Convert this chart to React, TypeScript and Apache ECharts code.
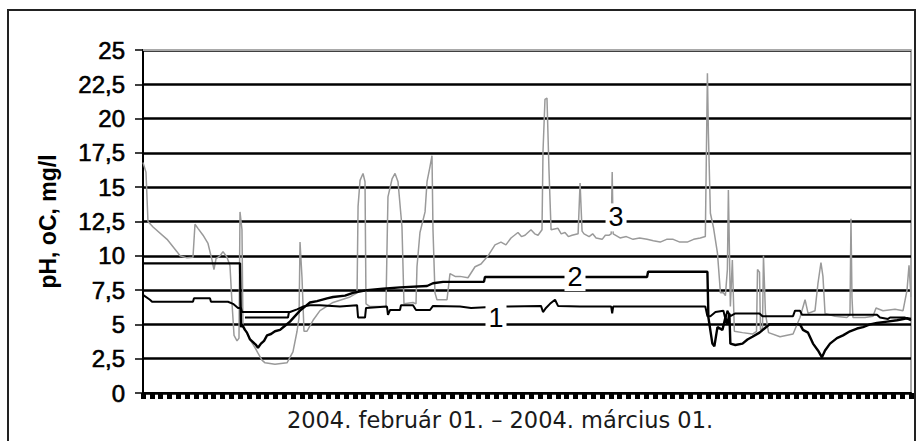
import React, { useEffect, useRef } from "react";
import * as echarts from "echarts";

// x: hours since 2004-02-01 00:00 (Feb 1 -> Mar 1 = 696 h)
const X_MAX = 696;
const X_TICK_HOURS = 8;

const yTickLabels = ["0", "2,5", "5", "7,5", "10", "12,5", "15", "17,5", "20", "22,5", "25"];

// Series 1 (black)
const series1: [number, number][] = [
  [0, 7.15], [6.3, 6.8], [8.2, 6.65], [45.3, 6.65], [46.2, 6.9], [60.7, 6.9], [61.6, 6.65],
  [77.0, 6.65], [81.6, 6.5], [86.1, 6.2], [88.8, 6.2], [89.7, 5.9], [133.2, 5.9], [139.6, 6.1],
  [145.0, 6.3], [151.3, 6.4], [160.4, 6.4], [178.5, 6.3], [194.0, 6.4], [194.9, 5.5], [201.2, 5.5],
  [202.1, 6.2], [221.1, 6.3], [222.0, 5.7], [223.9, 6.05], [232.9, 6.05], [233.8, 6.4], [244.7, 6.4],
  [247.4, 6.05], [260.1, 6.05], [262.8, 6.35], [287.3, 6.3], [297.3, 6.2], [323.5, 6.3], [360.7, 6.35],
  [362.5, 5.9], [365.2, 6.2], [368.8, 6.5], [373.4, 6.8], [376.1, 6.35], [396.0, 6.3], [424.3, 6.3],
  [425.2, 5.8], [426.1, 6.3], [509.6, 6.3], [511.5, 5.6], [514.2, 5.6], [518.8, 5.9], [526.0, 6.0],
  [527.8, 5.4], [529.6, 6.0], [532.3, 5.6], [536.8, 5.8], [558.7, 5.8], [561.4, 5.6], [589.1, 5.6],
  [590.9, 6.0], [595.4, 6.0], [597.2, 5.7], [665.2, 5.7], [667.9, 5.5], [675.2, 5.4], [677.0, 5.5],
  [690.6, 5.5], [696, 5.3],
];

// Short second trace of series 1 (lower edge of the early dip)
const series1b: [number, number][] = [
  [92.4, 5.5], [131.4, 5.5], [132.3, 5.9],
];

// Series 2 (black)
const series2: [number, number][] = [
  [0, 9.45], [87.9, 9.45], [88.8, 4.8], [89.7, 5.0], [92.4, 4.6], [94.2, 4.4], [97.0, 3.9],
  [99.7, 3.7], [102.4, 3.5], [104.2, 3.3], [106.9, 3.6], [109.7, 3.8], [112.4, 4.2], [116.0, 4.3],
  [119.6, 4.5], [124.2, 4.6], [128.7, 4.9], [133.2, 5.2], [137.7, 5.6], [142.3, 6.0], [146.8, 6.3],
  [151.3, 6.6], [157.7, 6.7], [166.8, 6.9], [172.2, 7.0], [183.1, 7.1], [190.3, 7.3], [203.0, 7.5],
  [217.5, 7.6], [232.9, 7.7], [257.4, 7.8], [262.8, 8.0], [271.9, 8.1], [309.0, 8.1], [309.9, 8.45],
  [456.8, 8.45], [457.7, 8.84], [511.5, 8.84], [512.4, 5.5], [516.0, 3.6], [517.8, 3.4], [520.6, 4.8],
  [525.1, 4.6], [527.8, 5.5], [529.6, 5.0], [531.4, 5.8], [532.3, 3.6], [536.8, 3.5], [543.3, 3.6],
  [547.8, 3.9], [552.3, 4.1], [558.7, 4.4], [563.2, 4.7], [567.8, 5.0], [589.1, 5.0], [595.4, 5.0],
  [598.1, 4.6], [602.7, 4.4], [607.2, 3.6], [611.7, 3.1], [615.3, 2.6], [618.1, 3.1], [622.6, 3.6],
  [628.9, 4.0], [634.4, 4.2], [640.7, 4.5], [647.1, 4.7], [652.5, 4.8], [658.8, 5.0], [665.2, 5.1],
  [674.3, 5.2], [683.3, 5.3], [692.4, 5.45], [696, 5.4],
];

// Series 3 (grey)
const series3: [number, number][] = [
  [0, 16.8], [2.7, 16.1], [4.5, 12.5], [9.1, 12.1], [21.8, 11.2], [30.8, 10.3], [33.5, 10.0],
  [39.9, 9.85], [45.3, 9.9], [47.1, 12.3], [49.8, 12.0], [54.4, 11.5], [58.9, 10.9], [62.5, 9.7],
  [64.3, 9.0], [66.2, 9.8], [69.8, 10.0], [72.5, 10.3], [76.1, 9.9], [78.8, 9.3], [80.7, 6.5],
  [82.5, 4.2], [85.2, 3.8], [87.0, 4.0], [87.9, 13.2], [89.7, 11.9], [90.6, 4.8], [94.2, 4.4],
  [97.0, 3.9], [101.5, 3.3], [104.2, 2.9], [107.8, 2.4], [110.6, 2.2], [119.6, 2.1], [130.5, 2.2],
  [135.9, 3.0], [139.6, 4.5], [141.4, 5.5], [142.3, 11.0], [144.1, 8.4], [145.9, 4.5], [148.6, 4.5],
  [154.1, 5.3], [160.4, 6.0], [172.2, 6.6], [187.6, 7.0], [194.0, 7.3], [194.9, 13.6], [196.7, 15.5],
  [199.4, 16.0], [201.2, 15.4], [202.1, 6.5], [205.7, 6.3], [220.2, 6.3], [221.1, 10.4], [222.0, 14.3],
  [225.7, 15.6], [228.4, 16.0], [231.1, 15.4], [234.7, 12.1], [236.5, 6.5], [244.7, 6.6], [247.4, 6.5],
  [248.3, 9.2], [251.0, 11.7], [255.6, 13.2], [257.4, 15.4], [260.1, 16.5], [261.9, 17.3], [262.8, 11.9],
  [264.6, 7.3], [266.4, 6.8], [275.5, 6.8], [278.2, 8.7], [282.8, 8.5], [287.3, 8.5], [294.5, 8.4],
  [300.9, 9.2], [306.3, 9.4], [312.7, 10.0], [319.0, 10.8], [324.4, 11.0], [328.9, 10.8], [333.5, 11.3],
  [339.8, 11.7], [343.0, 11.4], [346.2, 11.5], [351.6, 11.9], [355.0, 11.6], [358.0, 11.5], [361.6, 11.9],
  [362.5, 17.6], [364.3, 21.4], [366.1, 21.5], [367.9, 16.3], [369.8, 11.9], [376.1, 12.0], [379.0, 11.6],
  [382.4, 11.7], [385.5, 11.4], [388.8, 11.5], [394.3, 11.6], [396.1, 15.3], [397.9, 11.8], [399.7, 11.6],
  [404.3, 11.4], [407.5, 11.6], [410.6, 11.3], [416.1, 11.2], [419.0, 11.5], [422.5, 11.5], [424.3, 11.6],
  [425.2, 16.1], [426.1, 11.6], [432.3, 11.3], [438.0, 11.4], [444.1, 11.2], [450.0, 11.3], [456.8, 11.2],
  [462.5, 11.1], [468.7, 11.0], [474.5, 11.2], [480.5, 11.2], [486.5, 11.0], [493.2, 11.0], [499.0, 11.2],
  [505.0, 11.3], [509.6, 11.4], [511.5, 23.3], [512.4, 18.9], [514.2, 13.1], [516.9, 12.1], [520.6, 10.2],
  [523.3, 7.3], [526.0, 7.3], [527.8, 7.1], [529.6, 9.0], [530.5, 14.8], [532.3, 6.3], [534.1, 9.7],
  [535.9, 4.5], [543.3, 4.4], [552.3, 4.3], [556.0, 4.5], [556.9, 9.0], [558.7, 8.8], [559.6, 4.6],
  [561.4, 4.7], [562.3, 10.0], [564.1, 5.8], [566.9, 4.4], [577.3, 4.1], [589.1, 4.3], [595.4, 5.5],
  [600.0, 6.8], [602.7, 5.8], [609.0, 6.0], [611.7, 8.0], [614.4, 9.5], [616.2, 8.5], [618.1, 5.8],
  [627.1, 5.6], [637.9, 5.5], [640.7, 5.7], [641.6, 12.7], [642.5, 7.0], [643.4, 5.5], [654.3, 5.5],
  [661.6, 5.6], [664.3, 6.2], [670.6, 6.0], [681.5, 6.1], [688.8, 6.0], [692.4, 7.5], [694.2, 9.3],
  [696, 7.0],
];

// Curve labels: [hour, value, text]
const curveLabels: [number, number, string][] = [
  [319.9, 5.45, "1"],
  [391.5, 8.45, "2"],
  [428.7, 12.8, "3"],
];

const xTitle = "2004. február 01. – 2004. március 01.";
const yTitle = "pH, oC, mg/l";

export default function App() {
  const ref = useRef<HTMLDivElement>(null);
  useEffect(() => {
    if (!ref.current) return;
    const chart = echarts.init(ref.current, null, { renderer: "svg" });
    chart.setOption({
      animation: false,
      backgroundColor: "#fff",
      grid: {
        left: 143,
        right: 6,
        top: 50,
        bottom: 48,
        show: true,
        borderColor: "#8c8c8c",
        borderWidth: 1.5,
        backgroundColor: "transparent",
      },
      xAxis: {
        type: "value",
        min: 0,
        max: X_MAX,
        interval: X_TICK_HOURS,
        axisLine: { show: true, onZero: false, lineStyle: { color: "#000", width: 2 } },
        axisTick: { show: true, length: 6, lineStyle: { color: "#000", width: 5 } },
        axisLabel: { show: false },
        splitLine: { show: false },
      },
      yAxis: [
        {
          type: "value",
          min: 0,
          max: 25,
          interval: 2.5,
          name: yTitle,
          nameLocation: "middle",
          nameRotate: 90,
          nameGap: 84,
          nameTextStyle: {
            fontFamily: "Liberation Sans",
            fontSize: 23,
            fontWeight: "bold",
            color: "#000",
          },
          axisLine: { show: true, lineStyle: { color: "#000", width: 2 } },
          axisTick: { show: true, length: 8, lineStyle: { color: "#000", width: 1.5 } },
          axisLabel: {
            margin: 18,
            fontFamily: "Liberation Sans",
            fontSize: 24,
            color: "#000",
            textBorderColor: "#000",
            textBorderWidth: 0.6,
            formatter: (v: number) => yTickLabels[Math.round(v / 2.5)] ?? "",
          },
          splitLine: { show: true, lineStyle: { color: "#000", width: 2.5 } },
        },
      ],
      graphic: [
        {
          type: "rect",
          shape: { x: 8, y: 10, width: 907, height: 445 },
          style: { fill: "none", stroke: "#222", lineWidth: 2 },
          silent: true,
        },
        {
          type: "rect",
          shape: { x: 143, y: 49, width: 768, height: 2 },
          style: { fill: "#fff" },
          silent: true,
          z: 1,
        },
        {
          type: "line",
          shape: { x1: 143, y1: 50, x2: 911, y2: 50 },
          style: { stroke: "#8c8c8c", lineWidth: 1.5 },
          silent: true,
          z: 1,
        },
        {
          type: "text",
          x: 500,
          y: 420,
          style: {
            text: xTitle,
            fontFamily: "DejaVu Sans",
            fontSize: 22.5,
            fill: "#1a1a1a",
            textAlign: "center",
            textVerticalAlign: "middle",
          },
          silent: true,
        },
      ],
      series: [
        {
          name: "3",
          type: "line",
          data: series3,
          showSymbol: false,
          lineStyle: { color: "#9a9a9a", width: 1.5 },
          z: 2,
        },
        {
          name: "2",
          type: "line",
          data: series2,
          showSymbol: false,
          lineStyle: { color: "#000", width: 2.4 },
          z: 3,
        },
        {
          name: "1",
          type: "line",
          data: series1,
          showSymbol: false,
          lineStyle: { color: "#000", width: 2 },
          z: 3,
        },
        {
          name: "1b",
          type: "line",
          data: series1b,
          showSymbol: false,
          lineStyle: { color: "#000", width: 2 },
          z: 3,
        },
        {
          name: "labels",
          type: "scatter",
          data: curveLabels.map((d) => [d[0], d[1], d[2]]),
          symbolSize: 0,
          itemStyle: { opacity: 1 },
          z: 10,
          label: {
            show: true,
            position: "inside",
            formatter: (p: any) => p.value[2],
            fontFamily: "Liberation Sans",
            fontSize: 27,
            color: "#000",
            backgroundColor: "#fff",
            padding: [1, 3, 0, 3],
          },
        },
      ],
    });
    return () => chart.dispose();
  }, []);
  return (
    <div
      ref={ref}
      style={{ position: "fixed", left: 0, top: 0, width: 917, height: 441 }}
    />
  );
}
